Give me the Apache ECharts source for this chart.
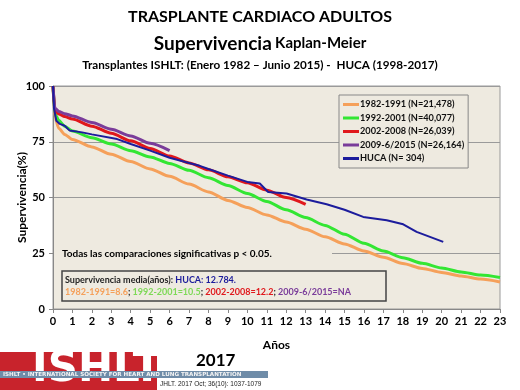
<!DOCTYPE html>
<html><head><meta charset="utf-8">
<script src="https://cdn.jsdelivr.net/npm/echarts@6/dist/echarts.min.js"></script>
<style>html,body{margin:0;padding:0;background:#fff}#c{width:520px;height:390px}</style>
</head><body><div id="c"></div>
<script>
// ---- data ----
var seriesNames = ['1982-1991 (N=21,478)', '1992-2001 (N=40,077)', '2002-2008 (N=26,039)', '2009-6/2015 (N=26,164)', 'HUCA (N= 304)'];
var xTicks = [0,1,2,3,4,5,6,7,8,9,10,11,12,13,14,15,16,17,18,19,20,21,22,23];
var yTicks = [0,25,50,75,100];

var t8291 = [0,0.1,0.3,0.6,1,2,3,4,5,6,7,8,9,10,11,12,13,14,15,16,17,18,19,20,21,22,23];
var v8291 = [100,86,81,78.3,76,72.7,69.4,66.1,62.8,59.5,56,52.5,48.7,45.5,42.2,39,35.8,32.4,29.2,26,23.2,20.4,18.2,16.4,14.8,13.4,12.1];

var t9201 = [0,0.1,0.3,0.6,1,2,3,4,5,6,7,8,9,10,11,12,13,14,15,16,17,18,19,20,21,22,23];
var v9201 = [100,87.5,84.5,82,79.8,76.8,74,71,68.2,65.3,62.2,58.9,55.4,51.8,48.2,44.5,41,37.5,33.5,29.5,26,23,20.5,18.4,16.6,15.2,14.1];

var t0208 = [0,0.1,0.3,0.6,1,2,3,4,5,6,7,8,9,10,11,12,13];
var v0208 = [100,89,87.5,86.3,85.2,82,78.8,75.4,72,68.6,65.5,62.4,59.3,56.6,53.3,50,46.9];

var t0915 = [0,0.1,0.3,0.6,1,2,3,4,5,6];
var v0915 = [100,90,88.6,87.6,86.6,83.6,80.6,77.6,74.3,71];

var tHuca = [0,0.05,0.17,0.35,0.6,0.86,1.5,2,3.3,4,5,6,7,7.55,8,9,10,10.64,11.07,12.02,13.05,14.08,15,15.96,17.17,18.02,18.71,20.08];
var vHuca = [100,90,84.4,83,82.2,80,79.2,78.3,76.2,74,71,67.8,65.5,64.2,62.8,59.8,57,56.3,52.5,51.8,49.1,47,44.5,41.3,39.8,38,34.6,30.1];

var colors = ['#F5A05A', '#33E633', '#E0181C', '#7A3C9A', '#1C1C9C'];
var widths = [3, 3, 3, 3, 2];

function pairs(t, v){ return t.map(function(x,i){ return [x, v[i]]; }); }
var datasets = [pairs(t8291,v8291), pairs(t9201,v9201), pairs(t0208,v0208), pairs(t0915,v0915), pairs(tHuca,vHuca)];

var FONT = 'Lato, "Open Sans", sans-serif';
var BG = '#EEEAE0';

var chart = echarts.init(document.getElementById('c'), null, {renderer:'canvas'});
var series = seriesNames.map(function(n,i){
  return {
    name: n, type: 'line', data: datasets[i], showSymbol: false, symbol: 'none',
    smooth: i < 4 ? 0.25 : false, smoothMonotone: 'x',
    lineStyle: {color: colors[i], width: widths[i]}, itemStyle: {color: colors[i]},
    z: i === 4 ? 5 : 3 + (i === 3 ? 1 : 0), animation: false
  };
});

chart.setOption({
  animation: false,
  grid: {left: 53, top: 86, right: 20, bottom: 81, show: true, backgroundColor: BG, borderColor: '#9a9a9a', borderWidth: 1,
    outerBoundsMode: 'none', containLabel: false},
  xAxis: {type: 'value', min: 0, max: 23, interval: 1,
    axisLine: {lineStyle: {color: '#888'}}, axisTick: {lineStyle: {color: '#888'}, length: 4},
    splitLine: {show: false},
    axisLabel: {color: '#000', fontFamily: FONT, fontWeight: 'bold', fontSize: 11, margin: 7,
      formatter: function(v){ return xTicks.indexOf(v) >= 0 ? String(v) : ''; }},
    name: 'Años', nameLocation: 'middle', nameGap: 30, nameMoveOverlap: false,
    nameTextStyle: {color: '#000', fontFamily: FONT, fontWeight: 'bold', fontSize: 12}
  },
  yAxis: {type: 'value', min: 0, max: 100, interval: 25,
    axisLine: {show: true, lineStyle: {color: '#888'}}, axisTick: {show: true, lineStyle: {color: '#888'}, length: 4},
    splitLine: {lineStyle: {color: '#9a9a9a', width: 1}},
    axisLabel: {color: '#000', fontFamily: FONT, fontWeight: 'bold', fontSize: 11, margin: 8,
      formatter: function(v){ return yTicks.indexOf(v) >= 0 ? String(v) : ''; }},
    name: 'Supervivencia(%)', nameLocation: 'middle', nameGap: 25, nameMoveOverlap: false,
    nameTextStyle: {color: '#000', fontFamily: FONT, fontWeight: 'bold', fontSize: 12}
  },
  legend: {orient: 'vertical', left: 339, top: 95, data: seriesNames,
    icon: 'rect', itemWidth: 16, itemHeight: 3, itemGap: 4.5,
    padding: [5, 4, 5, 4], borderColor: '#888', borderWidth: 1, backgroundColor: BG,
    textStyle: {color: '#111', fontFamily: FONT, fontWeight: 'bold', fontSize: 9.2, padding: [0,0,0,-4]}
  },
  series: series,
  graphic: [
    {type: 'text', left: 'center', top: 9, style: {text: 'TRASPLANTE CARDIACO ADULTOS', font: 'bold 16px ' + FONT, fill: '#000'}},
    {type: 'text', left: 'center', top: 34, style: {rich: {a: {font: 'bold 19px ' + FONT, fill: '#000'}, b: {font: 'bold 15px ' + FONT, fill: '#000'}}, text: '{a|Supervivencia} {b|Kaplan-Meier}'}},
    {type: 'text', left: 'center', top: 59, style: {text: 'Transplantes ISHLT: (Enero 1982 \u2013 Junio 2015) -  HUCA (1998-2017)', font: 'bold 11.7px ' + FONT, fill: '#000'}},
    {type: 'rect', shape: {x: 54, y: 249, width: 278, height: 10}, style: {fill: BG}, z: 10},
    {type: 'text', x: 62, y: 249, z: 11, style: {text: 'Todas las comparaciones significativas p < 0.05.', font: 'bold 10px ' + FONT, fill: '#000'}},
    {type: 'rect', shape: {x: 62, y: 271, width: 324, height: 30}, style: {fill: BG, stroke: '#444', lineWidth: 1.5}, z: 10},
    {type: 'text', x: 65, y: 274, z: 11, style: {
      rich: {k: {font: 'bold 9px ' + FONT, fill: '#222'}, h: {font: 'bold 9px ' + FONT, fill: '#1C1C9C'},
             o: {font: 'bold 9px ' + FONT, fill: '#F5A05A'}, g: {font: 'bold 9px ' + FONT, fill: '#7ED957'},
             r: {font: 'bold 9px ' + FONT, fill: '#E0181C'}, p: {font: 'bold 9px ' + FONT, fill: '#7A3C9A'}},
      text: '{k|Supervivencia media(años): }{h|HUCA: 12.784.}\n{o|1982-1991=8.6}{k|; }{g|1992-2001=10.5}{k|; }{r|2002-2008=12.2}{k|; }{p|2009-6/2015=NA}',
      lineHeight: 12}},
    {type: 'rect', shape: {x: 0, y: 352, width: 157, height: 38}, style: {fill: '#C8232C'}},
    {type: 'text', x: 32, y: 349, style: {text: 'ISHLT', font: 'bold 42px "DejaVu Sans", sans-serif', fill: '#fff', letterSpacing: 2}},
    {type: 'rect', shape: {x: 0, y: 371, width: 268, height: 7}, style: {fill: '#6F8CA8'}},
    {type: 'text', x: 3, y: 372, style: {text: 'ISHLT \u2022 INTERNATIONAL SOCIETY FOR HEART AND LUNG TRANSPLANTATION', font: 'bold 5.6px "DejaVu Sans", sans-serif', fill: '#f4f4f4', letterSpacing: 0.9}},
    {type: 'text', x: 196, y: 352, style: {text: '2017', font: 'bold 17px ' + FONT, fill: '#000'}},
    {type: 'text', x: 160, y: 381, style: {text: 'JHLT. 2017 Oct; 36(10): 1037-1079', font: '6.5px "Liberation Sans", sans-serif', fill: '#222'}}
  ]
});
</script></body></html>
